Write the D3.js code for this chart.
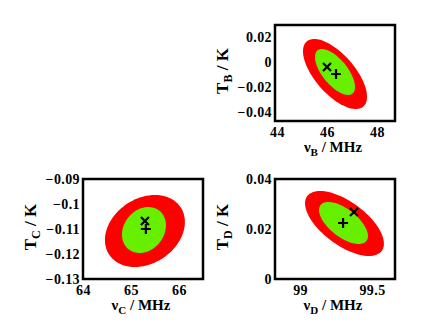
<!DOCTYPE html>
<html><head><meta charset="utf-8">
<script src="https://cdn.jsdelivr.net/npm/d3@7"></script>
<style>body{margin:0;background:#fff}svg{display:block}</style>
</head><body>
<script>
// ---- data ----
const panelNames = ["B", "C", "D"];
const xDomains = [[43.92, 48.72], [64, 66.5], [98.826, 99.66]];
const yDomains = [[-0.0472, 0.0296], [-0.13, -0.09], [0, 0.04]];
const xTicks = [[44, 46, 48], [64, 65, 66], [99, 99.5]];
const yTicks = [[0.02, 0, -0.02, -0.04], [-0.09, -0.1, -0.11, -0.12, -0.13], [0, 0.02, 0.04]];
// confidence contours: [centre nu, centre T, sigma nu, sigma T, correlation]
const outerRegion = [[46.32, -0.0096, 1.28, 0.028, -0.65], [65.29, -0.1108, 0.833, 0.0144, 0.25], [99.309, 0.0222, 0.274, 0.013, -0.62]];
const innerRegion = [[46.32, -0.008, 0.80, 0.0184, -0.65], [65.27, -0.1104, 0.458, 0.0092, 0.2], [99.302, 0.0224, 0.170, 0.0084, -0.62]];
const crossPoints = [[46.0, -0.004], [65.29, -0.1068], [99.375, 0.0268]];
const plusPoints = [[46.36, -0.0096], [65.31, -0.110], [99.299, 0.0224]];

// ---- layout ----
const W = 436, H = 328;
const boxes = [{x0: 275, x1: 395, y0: 25, y1: 121}, {x0: 83, x1: 203, y0: 179, y1: 279}, {x0: 275, x1: 395, y0: 179, y1: 279}];
const font = "'Liberation Serif','Times New Roman',serif";

const svg = d3.select("body").append("svg").attr("width", W).attr("height", H);
svg.append("rect").attr("width", W).attr("height", H).attr("fill", "#fff");

function fmt(v) { return String(+v.toFixed(4)).replace("-", "\u2212"); }

function ellipsePoints(p) {
  const [cx, cy, sx, sy, r] = p;
  const q = Math.sqrt(1 - r * r);
  return d3.range(0, 361, 4).map(a => {
    const t = a * Math.PI / 180;
    return [cx + sx * Math.cos(t), cy + sy * (r * Math.cos(t) + q * Math.sin(t))];
  });
}

panelNames.forEach((name, i) => {
  const b = boxes[i];
  const x = d3.scaleLinear().domain(xDomains[i]).range([b.x0, b.x1]);
  const y = d3.scaleLinear().domain(yDomains[i]).range([b.y1, b.y0]);
  const g = svg.append("g");
  const clipId = "clip" + i;
  g.append("clipPath").attr("id", clipId).append("rect")
    .attr("x", b.x0).attr("y", b.y0).attr("width", b.x1 - b.x0).attr("height", b.y1 - b.y0);
  const plot = g.append("g").attr("clip-path", `url(#${clipId})`);
  const line = d3.line().x(d => x(d[0])).y(d => y(d[1])).curve(d3.curveLinearClosed);
  plot.append("path").attr("d", line(ellipsePoints(outerRegion[i]))).attr("fill", "#ff0000");
  plot.append("path").attr("d", line(ellipsePoints(innerRegion[i]))).attr("fill", "#66f000");
  // markers
  const cp = crossPoints[i], pp = plusPoints[i];
  const s = 4;
  plot.append("path").attr("d", `M${x(cp[0]) - s},${y(cp[1]) - s}L${x(cp[0]) + s},${y(cp[1]) + s}M${x(cp[0]) - s},${y(cp[1]) + s}L${x(cp[0]) + s},${y(cp[1]) - s}`)
    .attr("stroke", "#000").attr("stroke-width", 2.2).attr("fill", "none");
  const s2 = 5;
  plot.append("path").attr("d", `M${x(pp[0]) - s2},${y(pp[1])}L${x(pp[0]) + s2},${y(pp[1])}M${x(pp[0])},${y(pp[1]) - s2}L${x(pp[0])},${y(pp[1]) + s2}`)
    .attr("stroke", "#000").attr("stroke-width", 2.2).attr("fill", "none");
  // frame
  g.append("rect").attr("x", b.x0).attr("y", b.y0).attr("width", b.x1 - b.x0).attr("height", b.y1 - b.y0)
    .attr("fill", "none").attr("stroke", "#000").attr("stroke-width", 2.5);
  // axes (labels only)
  const xa = g.append("g").attr("transform", `translate(0,${b.y1})`)
    .call(d3.axisBottom(x).tickValues(xTicks[i]).tickFormat(fmt).tickSize(0).tickPadding(6));
  const ya = g.append("g").attr("transform", `translate(${b.x0},0)`)
    .call(d3.axisLeft(y).tickValues(yTicks[i]).tickFormat(fmt).tickSize(0).tickPadding(3));
  [xa, ya].forEach(a => {
    a.select(".domain").remove();
    a.selectAll("text").attr("font-family", font).attr("font-weight", "bold").attr("font-size", 14)
      .attr("letter-spacing", 0.4).attr("fill", "#000");
  });
  // axis titles
  const xt = g.append("text").attr("x", (b.x0 + b.x1) / 2 - 2).attr("y", b.y1 + 31)
    .attr("text-anchor", "middle").attr("font-family", font).attr("font-weight", "bold").attr("font-size", 15);
  xt.append("tspan").text("\u03bd");
  xt.append("tspan").attr("dy", 4).attr("font-size", 11).text(name);
  xt.append("tspan").attr("dy", -4).text(" / MHz");
  const yt = g.append("text").attr("transform", `translate(${b.x0 - 47},${(b.y0 + b.y1) / 2 - 2}) rotate(-90)`)
    .attr("text-anchor", "middle").attr("font-family", font).attr("font-weight", "bold").attr("font-size", 17);
  yt.append("tspan").text("T");
  yt.append("tspan").attr("dy", 4).attr("font-size", 12).text(name);
  yt.append("tspan").attr("dy", -4).text(" / K");
});
</script>
</body></html>
